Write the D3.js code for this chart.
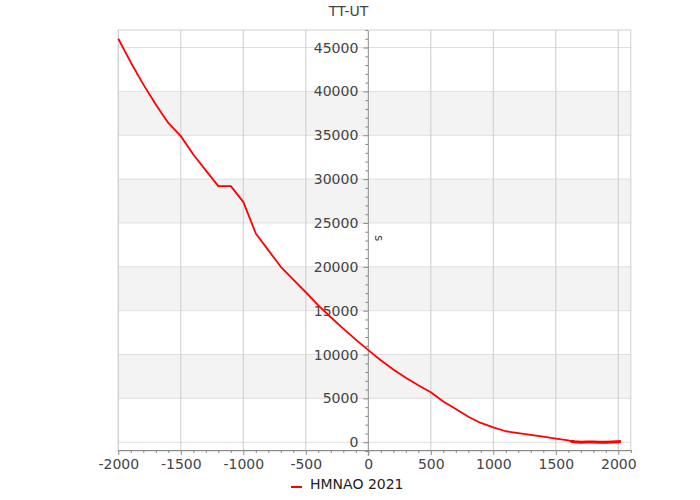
<!DOCTYPE html>
<html>
<head>
<meta charset="utf-8">
<script src="https://cdn.jsdelivr.net/npm/d3@7"></script>
<style>
  body { margin: 0; background: #fff; }
  text { font-family: "DejaVu Sans", Verdana, sans-serif; }
</style>
</head>
<body>
<svg id="chart" width="700" height="500"></svg>
<script>
// ---- data ----
const years = [-2000, -1900, -1800, -1700, -1600, -1500, -1400, -1300, -1200, -1100, -1000, -900, -800, -700, -600, -500, -400, -300, -200, -100, 0, 100, 200, 300, 400, 500, 600, 700, 800, 900, 1000, 1100, 1200, 1300, 1400, 1500, 1600, 1620, 1650, 1700, 1750, 1800, 1850, 1900, 1950, 2000, 2020];
const deltaT = [46000, 43300, 40800, 38500, 36400, 34900, 32800, 31000, 29200, 29200, 27400, 23800, 21900, 20000, 18550, 17100, 15600, 14250, 12950, 11700, 10500, 9350, 8300, 7350, 6500, 5700, 4650, 3800, 2900, 2200, 1700, 1250, 1050, 850, 650, 420, 200, 120, 50, 10, 13, 18, 7, -3, 29, 64, 69];
const xMajorTicks = [-2000, -1500, -1000, -500, 0, 500, 1000, 1500, 2000];
const yMajorTicks = [0, 5000, 10000, 15000, 20000, 25000, 30000, 35000, 40000, 45000];
const seriesName = "HMNAO 2021";
const chartTitle = "TT-UT";
const unitLabel = "s";

// ---- layout ----
const svg = d3.select("#chart");
const pLeft = 118.3, pRight = 630.8, pTop = 30, pBottom = 451;
const x = d3.scaleLinear().domain([-2000, 2100]).range([pLeft, pRight]);
const y = d3.scaleLinear().domain([-1000, 47000]).range([pBottom, pTop]);
const axisColor = "#8a8a8a", textColor = "#444";

// bands between major y ticks (alternating)
for (let i = 0; i < yMajorTicks.length - 1; i++) {
  if (i % 2 === 1) {
    svg.append("rect")
      .attr("x", pLeft).attr("width", pRight - pLeft)
      .attr("y", y(yMajorTicks[i + 1]))
      .attr("height", y(yMajorTicks[i]) - y(yMajorTicks[i + 1]))
      .attr("fill", "#f3f3f3");
  }
}
// horizontal gridlines
svg.append("g").selectAll("line").data(yMajorTicks).join("line")
  .attr("x1", pLeft).attr("x2", pRight)
  .attr("y1", d => y(d)).attr("y2", d => y(d))
  .attr("stroke", "#dedede").attr("stroke-width", 1);
// vertical gridlines
svg.append("g").selectAll("line").data(xMajorTicks.filter(d => d !== 0)).join("line")
  .attr("x1", d => x(d)).attr("x2", d => x(d))
  .attr("y1", pTop).attr("y2", y(-1000))
  .attr("stroke", "#cccccc").attr("stroke-width", 1);
// frame
svg.append("rect")
  .attr("x", pLeft).attr("y", pTop)
  .attr("width", pRight - pLeft).attr("height", y(-1000) - pTop)
  .attr("fill", "none").attr("stroke", "#d0d0d0");

// x axis
const xMinor = d3.range(-2000, 2101, 100).filter(d => !xMajorTicks.includes(d));
const gxMinor = svg.append("g").attr("transform", `translate(0,${y(-1000) - 1})`)
  .call(d3.axisBottom(x).tickValues(xMinor).tickSize(3).tickFormat(""));
gxMinor.select(".domain").remove();
gxMinor.selectAll("line").attr("stroke", axisColor);
const gx = svg.append("g").attr("transform", `translate(0,${y(-1000) - 1})`)
  .call(d3.axisBottom(x).tickValues(xMajorTicks).tickSize(5).tickSizeOuter(0).tickPadding(4)
    .tickFormat(d => String(d)));
gx.select(".domain").attr("stroke", axisColor);
gx.selectAll("line").attr("stroke", axisColor);
gx.selectAll("text").attr("fill", textColor).style("font-size", "14px")
  .style("font-family", "'DejaVu Sans', Verdana, sans-serif");

// y axis at x = 0
const yMinor = d3.range(-1000, 47001, 1000).filter(d => !yMajorTicks.includes(d));
const gyMinor = svg.append("g").attr("transform", `translate(${x(0)},0)`)
  .call(d3.axisLeft(y).tickValues(yMinor).tickSize(3).tickFormat(""));
gyMinor.select(".domain").remove();
gyMinor.selectAll("line").attr("stroke", axisColor);
const gy = svg.append("g").attr("transform", `translate(${x(0)},0)`)
  .call(d3.axisLeft(y).tickValues(yMajorTicks).tickSize(5).tickPadding(5)
    .tickFormat(d => String(d)));
gy.select(".domain").remove();
gy.selectAll("line").attr("stroke", axisColor);
gy.selectAll("text").attr("fill", textColor).style("font-size", "14px")
  .style("font-family", "'DejaVu Sans', Verdana, sans-serif");
svg.append("line")
  .attr("x1", x(0)).attr("x2", x(0))
  .attr("y1", pTop + 1).attr("y2", y(-1000) + 5)
  .attr("stroke", axisColor);

// unit label
svg.append("text")
  .attr("transform", `translate(${x(0) + 7},${238}) rotate(90)`)
  .attr("text-anchor", "middle")
  .attr("fill", textColor).style("font-size", "12px")
  .text(unitLabel);

// title
svg.append("text")
  .attr("x", x(0)).attr("y", 15.5)
  .attr("text-anchor", "end")
  .attr("fill", textColor).style("font-size", "14px")
  .text(chartTitle);

// series line
const data = years.map((yr, i) => ({ yr, v: deltaT[i] }));
const line = d3.line().x(d => x(d.yr)).y(d => y(d.v));
svg.append("path").datum(data)
  .attr("fill", "none").attr("stroke", "#ff0000").attr("stroke-width", 1.8)
  .attr("stroke-linejoin", "round")
  .attr("d", line);
// dense modern segment renders heavier in the reference
svg.append("path").datum(data.filter(d => d.yr >= 1620))
  .attr("fill", "none").attr("stroke", "#ff0000").attr("stroke-width", 3)
  .attr("d", line);

// legend
svg.append("line")
  .attr("x1", 291).attr("x2", 302).attr("y1", 487).attr("y2", 487)
  .attr("stroke", "#ff0000").attr("stroke-width", 2);
svg.append("text")
  .attr("x", 310).attr("y", 489)
  .attr("fill", "#222").style("font-size", "14px")
  .text(seriesName);
</script>
</body>
</html>
